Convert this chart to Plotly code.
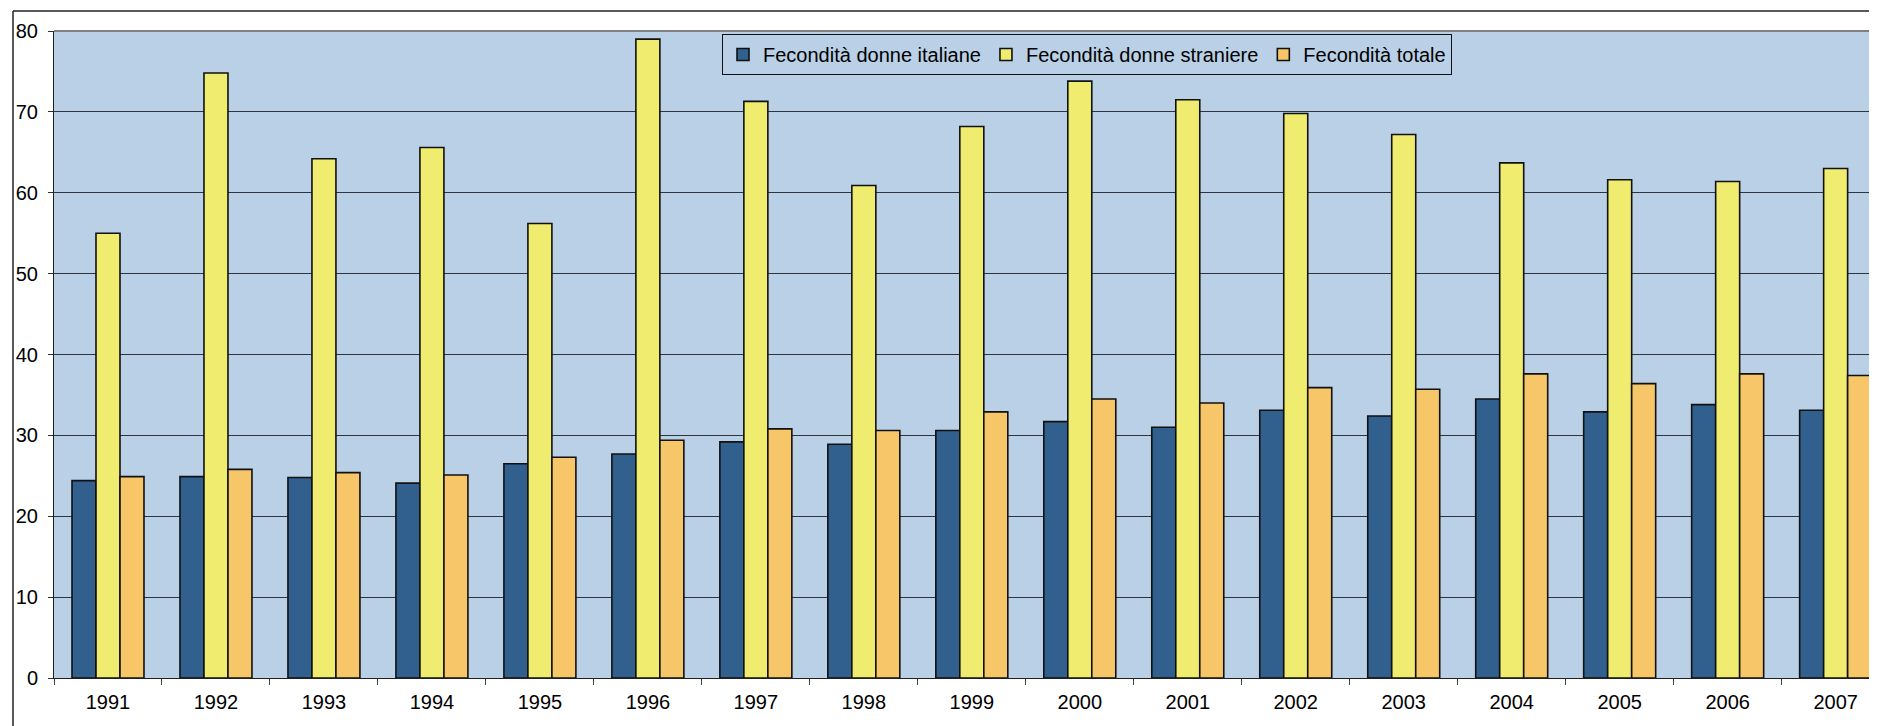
import plotly.graph_objects as go

years = ["1991", "1992", "1993", "1994", "1995", "1996", "1997", "1998", "1999",
         "2000", "2001", "2002", "2003", "2004", "2005", "2006", "2007"]

italiane = [24.4, 24.9, 24.8, 24.1, 26.5, 27.7, 29.2, 28.9, 30.6,
            31.7, 31.0, 33.1, 32.4, 34.5, 32.9, 33.8, 33.1]
straniere = [55.0, 74.8, 64.2, 65.6, 56.2, 79.0, 71.3, 60.9, 68.2,
             73.8, 71.5, 69.8, 67.2, 63.7, 61.6, 61.4, 63.0]
totale = [24.9, 25.8, 25.4, 25.1, 27.3, 29.4, 30.8, 30.6, 32.9,
          34.5, 34.0, 35.9, 35.7, 37.6, 36.4, 37.6, 37.4]

series_names = ["Fecondità donne italiane", "Fecondità donne straniere", "Fecondità totale"]
series_colors = ["#31608f", "#f0ec70", "#f6c668"]

# page body has an 8px margin: figure origin sits at (8, 8) in the window
OFF = 8
W, H = 1869, 718
ML, MR, MT, MB = 54 - OFF, 0, 31 - OFF, 48
PW = W - ML - MR
PH = H - MT - MB

def px_x(px):  # window px -> paper x
    return (px - OFF - ML) / PW

def px_y(py):  # window px -> paper y
    return (H - MB - (py - OFF)) / PH

FONT = "Liberation Sans, Arial, sans-serif"

fig = go.Figure()
for name, vals, col in zip(series_names, [italiane, straniere, totale], series_colors):
    fig.add_trace(go.Bar(
        x=years, y=vals, name=name,
        marker=dict(color=col, line=dict(color="#111111", width=1.6)),
    ))

fig.update_layout(
    width=W, height=H,
    margin=dict(l=ML, r=MR, t=MT, b=MB),
    paper_bgcolor="white",
    plot_bgcolor="#b9d0e6",
    barmode="group",
    bargap=1/3,
    bargroupgap=0,
    font=dict(family=FONT, size=20, color="#000000"),
    showlegend=True,
    legend=dict(
        orientation="h",
        x=px_x(722), y=px_y(34), xanchor="left", yanchor="top",
        bgcolor="#b9d0e6", bordercolor="#111111", borderwidth=1,
        font=dict(family=FONT, size=20, color="#000000"),
        itemwidth=30,
        traceorder="normal",
    ),
    xaxis=dict(
        type="category",
        range=[-0.5, 16.383],
        tickson="boundaries",
        ticks="outside", ticklen=6, tickcolor="#404040", tickwidth=1,
        showline=True, linecolor="#202020", linewidth=1,
        showgrid=False,
        ticklabelstandoff=6,
        tickfont=dict(family=FONT, size=20),
    ),
    yaxis=dict(
        range=[0, 80],
        tickvals=[0, 10, 20, 30, 40, 50, 60, 70, 80],
        ticks="outside", ticklen=5, tickcolor="#303030", tickwidth=1,
        showline=True, linecolor="#202020", linewidth=1,
        showgrid=True, gridcolor="#2e3540", gridwidth=1,
        zeroline=False,
        ticklabelstandoff=6,
        tickfont=dict(family=FONT, size=20),
    ),
    shapes=[
        # plot area top border (grey)
        dict(type="line", xref="paper", yref="paper", x0=0, x1=1, y0=1, y1=1,
             line=dict(color="#808080", width=2), layer="above"),
        # outer chart border (left and top, rest cropped)
        dict(type="line", xref="paper", yref="paper",
             x0=px_x(13), x1=px_x(13), y0=px_y(11), y1=px_y(740),
             line=dict(color="#222222", width=1.5)),
        dict(type="line", xref="paper", yref="paper",
             x0=px_x(13), x1=px_x(1890), y0=px_y(11), y1=px_y(11),
             line=dict(color="#222222", width=1.5)),
    ],
)

fig.write_html("out.html")
